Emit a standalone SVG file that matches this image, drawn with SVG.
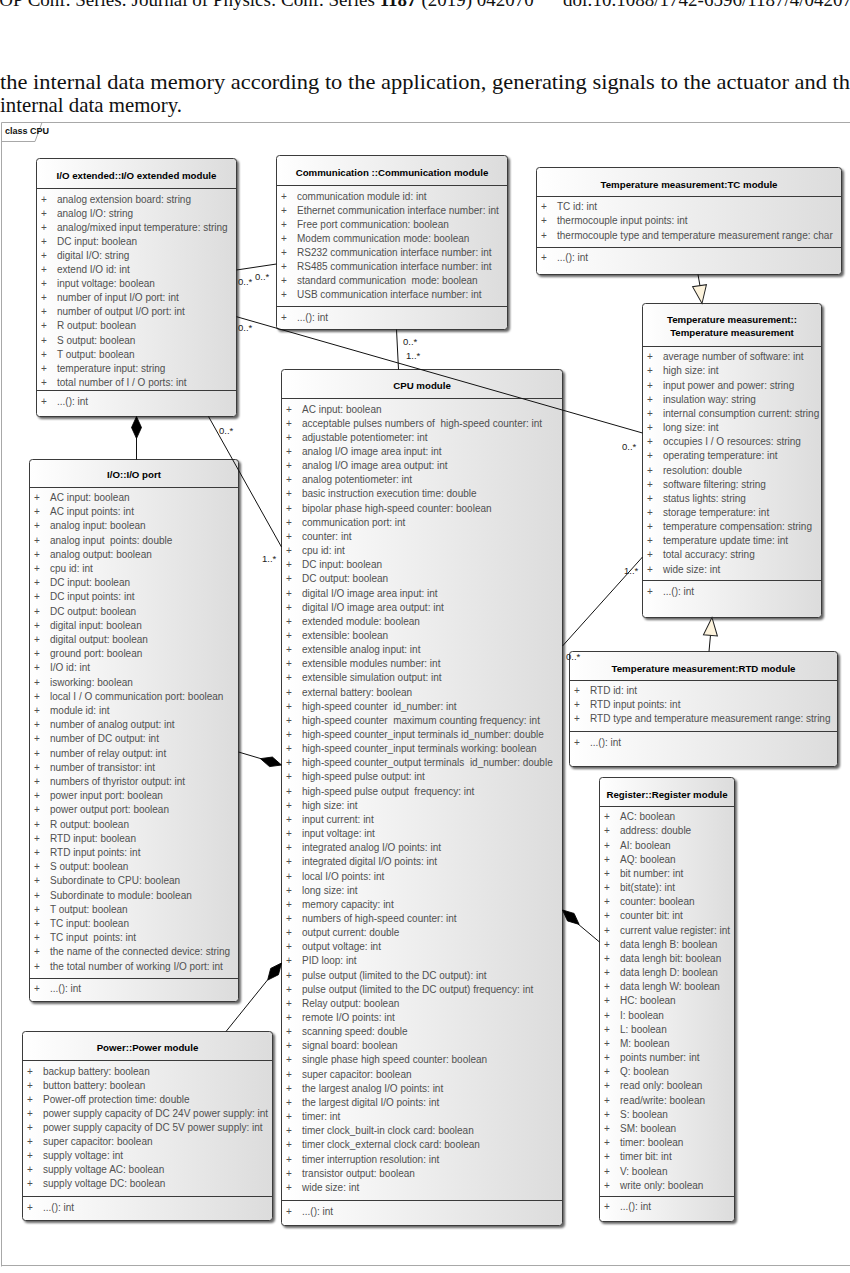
<svg xmlns="http://www.w3.org/2000/svg" width="850" height="1273" viewBox="0 0 850 1273">
<defs>
<linearGradient id="g" x1="0" y1="0" x2="1" y2="0"><stop offset="0" stop-color="#ffffff"/><stop offset="1" stop-color="#dcdcdc"/></linearGradient>
<filter id="sh" x="-5%" y="-5%" width="115%" height="115%"><feDropShadow dx="2" dy="2" stdDeviation="0.8" flood-color="#000" flood-opacity="0.6"/></filter>
<path id="dia" d="M0,0 L-11,-5 L-22,0 L-11,5 Z" fill="#000" stroke="#000" stroke-width="0.8"/>
<path id="tri" d="M0,0 L-18,-7 L-18,7 Z" fill="#fdf3dc" stroke="#222" stroke-width="1"/>
</defs>
<style>
.hd{font-family:"Liberation Serif","Times New Roman",serif;fill:#111}
.t{font-family:"Liberation Sans",Arial,sans-serif;font-size:9.7px;font-weight:bold;fill:#000;text-anchor:middle}
.a{font-family:"Liberation Sans",Arial,sans-serif;font-size:10px;fill:#505050;white-space:pre}
.m{font-family:"Liberation Sans",Arial,sans-serif;font-size:9.5px;fill:#222}
.box{fill:url(#g);stroke:#3a3a3a;stroke-width:1;filter:url(#sh)}
.sep{stroke:#3a3a3a;stroke-width:1}
.c{stroke:#111;stroke-width:1;fill:none}
.fr{stroke:#a8a8a8;stroke-width:1;fill:none}
</style>
<rect width="850" height="1273" fill="#fff"/>
<g id="header">
<text class="hd" x="-7" y="6" font-size="19">IOP Conf. Series: Journal of Physics: Conf. Series <tspan font-weight="bold">1187</tspan> (2019) 042070</text>
<text class="hd" x="563" y="6" font-size="19">doi:10.1088/1742-6596/1187/4/042070</text>
<text class="hd" x="0" y="89" font-size="22" textLength="850" lengthAdjust="spacingAndGlyphs">the internal data memory according to the application, generating signals to the actuator and th</text>
<text class="hd" x="0" y="112" font-size="22" textLength="182" lengthAdjust="spacingAndGlyphs">internal data memory.</text>
</g>
<g id="frame">
<path class="fr" d="M1.5,1266.5 V122.5 H850 M1.5,1265.5 H850 M1.5,141.5 H35 L42,122.5"/>
<text x="5" y="134" font-family="Liberation Sans, Arial, sans-serif" font-size="9" font-weight="bold" fill="#111">class CPU</text>
</g>

<g id="io-extended">
<rect class="box" x="36.5" y="158.5" width="200" height="258" rx="3"/>
<line class="sep" x1="36.5" y1="188.5" x2="236.5" y2="188.5"/>
<line class="sep" x1="36.5" y1="390.5" x2="236.5" y2="390.5"/>
<text class="t" x="136.5" y="179">I/O extended::I/O extended module</text>
<text class="a" y="202.5"><tspan x="41">+</tspan><tspan x="57">analog extension board: string</tspan></text>
<text class="a" y="216.6"><tspan x="41">+</tspan><tspan x="57">analog I/O: string</tspan></text>
<text class="a" y="230.7"><tspan x="41">+</tspan><tspan x="57">analog/mixed input temperature: string</tspan></text>
<text class="a" y="244.8"><tspan x="41">+</tspan><tspan x="57">DC input: boolean</tspan></text>
<text class="a" y="258.9"><tspan x="41">+</tspan><tspan x="57">digital I/O: string</tspan></text>
<text class="a" y="273"><tspan x="41">+</tspan><tspan x="57">extend I/O id: int</tspan></text>
<text class="a" y="287.1"><tspan x="41">+</tspan><tspan x="57">input voltage: boolean</tspan></text>
<text class="a" y="301.2"><tspan x="41">+</tspan><tspan x="57">number of input I/O port: int</tspan></text>
<text class="a" y="315.3"><tspan x="41">+</tspan><tspan x="57">number of output I/O port: int</tspan></text>
<text class="a" y="329.4"><tspan x="41">+</tspan><tspan x="57">R output: boolean</tspan></text>
<text class="a" y="343.5"><tspan x="41">+</tspan><tspan x="57">S output: boolean</tspan></text>
<text class="a" y="357.6"><tspan x="41">+</tspan><tspan x="57">T output: boolean</tspan></text>
<text class="a" y="371.7"><tspan x="41">+</tspan><tspan x="57">temperature input: string</tspan></text>
<text class="a" y="385.8"><tspan x="41">+</tspan><tspan x="57">total number of I / O ports: int</tspan></text>
<text class="a" y="404.5"><tspan x="41">+</tspan><tspan x="57">...(): int</tspan></text>
</g>

<g id="communication">
<rect class="box" x="276.5" y="155.5" width="231" height="174" rx="3"/>
<line class="sep" x1="276.5" y1="185.5" x2="507.5" y2="185.5"/>
<line class="sep" x1="276.5" y1="306.5" x2="507.5" y2="306.5"/>
<text class="t" x="392" y="175.5">Communication ::Communication module</text>
<text class="a" y="199.5"><tspan x="281">+</tspan><tspan x="297">communication module id: int</tspan></text>
<text class="a" y="213.6"><tspan x="281">+</tspan><tspan x="297">Ethernet communication interface number: int</tspan></text>
<text class="a" y="227.7"><tspan x="281">+</tspan><tspan x="297">Free port communication: boolean</tspan></text>
<text class="a" y="241.8"><tspan x="281">+</tspan><tspan x="297">Modem communication mode: boolean</tspan></text>
<text class="a" y="255.9"><tspan x="281">+</tspan><tspan x="297">RS232 communication interface number: int</tspan></text>
<text class="a" y="270"><tspan x="281">+</tspan><tspan x="297">RS485 communication interface number: int</tspan></text>
<text class="a" y="284.1"><tspan x="281">+</tspan><tspan x="297">standard communication  mode: boolean</tspan></text>
<text class="a" y="298.2"><tspan x="281">+</tspan><tspan x="297">USB communication interface number: int</tspan></text>
<text class="a" y="320.8"><tspan x="281">+</tspan><tspan x="297">...(): int</tspan></text>
</g>

<g id="tc-module">
<rect class="box" x="536.5" y="167.5" width="305" height="107" rx="3"/>
<line class="sep" x1="536.5" y1="196.5" x2="841.5" y2="196.5"/>
<line class="sep" x1="536.5" y1="247.5" x2="841.5" y2="247.5"/>
<text class="t" x="689" y="187.5">Temperature measurement:TC module</text>
<text class="a" y="209.5"><tspan x="541">+</tspan><tspan x="557">TC id: int</tspan></text>
<text class="a" y="224"><tspan x="541">+</tspan><tspan x="557">thermocouple input points: int</tspan></text>
<text class="a" y="238.5"><tspan x="541">+</tspan><tspan x="557">thermocouple type and temperature measurement range: char</tspan></text>
<text class="a" y="261"><tspan x="541">+</tspan><tspan x="557">...(): int</tspan></text>
</g>

<g id="temperature-measurement">
<rect class="box" x="642.5" y="303.5" width="179" height="314" rx="3"/>
<line class="sep" x1="642.5" y1="346.5" x2="821.5" y2="346.5"/>
<line class="sep" x1="642.5" y1="580.5" x2="821.5" y2="580.5"/>
<text class="t" x="732" y="322.5">Temperature measurement::</text>
<text class="t" x="732" y="336.3">Temperature measurement</text>
<text class="a" y="360.2"><tspan x="647">+</tspan><tspan x="663">average number of software: int</tspan></text>
<text class="a" y="374.4"><tspan x="647">+</tspan><tspan x="663">high size: int</tspan></text>
<text class="a" y="388.5"><tspan x="647">+</tspan><tspan x="663">input power and power: string</tspan></text>
<text class="a" y="402.7"><tspan x="647">+</tspan><tspan x="663">insulation way: string</tspan></text>
<text class="a" y="416.8"><tspan x="647">+</tspan><tspan x="663">internal consumption current: string</tspan></text>
<text class="a" y="431"><tspan x="647">+</tspan><tspan x="663">long size: int</tspan></text>
<text class="a" y="445.2"><tspan x="647">+</tspan><tspan x="663">occupies I / O resources: string</tspan></text>
<text class="a" y="459.3"><tspan x="647">+</tspan><tspan x="663">operating temperature: int</tspan></text>
<text class="a" y="473.5"><tspan x="647">+</tspan><tspan x="663">resolution: double</tspan></text>
<text class="a" y="487.6"><tspan x="647">+</tspan><tspan x="663">software filtering: string</tspan></text>
<text class="a" y="501.8"><tspan x="647">+</tspan><tspan x="663">status lights: string</tspan></text>
<text class="a" y="516"><tspan x="647">+</tspan><tspan x="663">storage temperature: int</tspan></text>
<text class="a" y="530.1"><tspan x="647">+</tspan><tspan x="663">temperature compensation: string</tspan></text>
<text class="a" y="544.3"><tspan x="647">+</tspan><tspan x="663">temperature update time: int</tspan></text>
<text class="a" y="558.4"><tspan x="647">+</tspan><tspan x="663">total accuracy: string</tspan></text>
<text class="a" y="572.6"><tspan x="647">+</tspan><tspan x="663">wide size: int</tspan></text>
<text class="a" y="595.2"><tspan x="647">+</tspan><tspan x="663">...(): int</tspan></text>
</g>

<g id="rtd-module">
<rect class="box" x="569.5" y="651.5" width="268" height="115" rx="3"/>
<line class="sep" x1="569.5" y1="680.5" x2="837.5" y2="680.5"/>
<line class="sep" x1="569.5" y1="731.5" x2="837.5" y2="731.5"/>
<text class="t" x="703.5" y="671.5">Temperature measurement:RTD module</text>
<text class="a" y="694"><tspan x="574">+</tspan><tspan x="590">RTD id: int</tspan></text>
<text class="a" y="708.2"><tspan x="574">+</tspan><tspan x="590">RTD input points: int</tspan></text>
<text class="a" y="722.4"><tspan x="574">+</tspan><tspan x="590">RTD type and temperature measurement range: string</tspan></text>
<text class="a" y="746"><tspan x="574">+</tspan><tspan x="590">...(): int</tspan></text>
</g>

<g id="cpu-module">
<rect class="box" x="281.5" y="369.5" width="281" height="856" rx="3"/>
<line class="sep" x1="281.5" y1="398.5" x2="562.5" y2="398.5"/>
<line class="sep" x1="281.5" y1="1200.5" x2="562.5" y2="1200.5"/>
<text class="t" x="422" y="388.5">CPU module</text>
<text class="a" y="412.5"><tspan x="286">+</tspan><tspan x="302">AC input: boolean</tspan></text>
<text class="a" y="426.7"><tspan x="286">+</tspan><tspan x="302">acceptable pulses numbers of  high-speed counter: int</tspan></text>
<text class="a" y="440.8"><tspan x="286">+</tspan><tspan x="302">adjustable potentiometer: int</tspan></text>
<text class="a" y="455"><tspan x="286">+</tspan><tspan x="302">analog I/O image area input: int</tspan></text>
<text class="a" y="469.1"><tspan x="286">+</tspan><tspan x="302">analog I/O image area output: int</tspan></text>
<text class="a" y="483.3"><tspan x="286">+</tspan><tspan x="302">analog potentiometer: int</tspan></text>
<text class="a" y="497.4"><tspan x="286">+</tspan><tspan x="302">basic instruction execution time: double</tspan></text>
<text class="a" y="511.6"><tspan x="286">+</tspan><tspan x="302">bipolar phase high-speed counter: boolean</tspan></text>
<text class="a" y="525.7"><tspan x="286">+</tspan><tspan x="302">communication port: int</tspan></text>
<text class="a" y="539.9"><tspan x="286">+</tspan><tspan x="302">counter: int</tspan></text>
<text class="a" y="554"><tspan x="286">+</tspan><tspan x="302">cpu id: int</tspan></text>
<text class="a" y="568.2"><tspan x="286">+</tspan><tspan x="302">DC input: boolean</tspan></text>
<text class="a" y="582.3"><tspan x="286">+</tspan><tspan x="302">DC output: boolean</tspan></text>
<text class="a" y="596.5"><tspan x="286">+</tspan><tspan x="302">digital I/O image area input: int</tspan></text>
<text class="a" y="610.6"><tspan x="286">+</tspan><tspan x="302">digital I/O image area output: int</tspan></text>
<text class="a" y="624.8"><tspan x="286">+</tspan><tspan x="302">extended module: boolean</tspan></text>
<text class="a" y="638.9"><tspan x="286">+</tspan><tspan x="302">extensible: boolean</tspan></text>
<text class="a" y="653.1"><tspan x="286">+</tspan><tspan x="302">extensible analog input: int</tspan></text>
<text class="a" y="667.2"><tspan x="286">+</tspan><tspan x="302">extensible modules number: int</tspan></text>
<text class="a" y="681.4"><tspan x="286">+</tspan><tspan x="302">extensible simulation output: int</tspan></text>
<text class="a" y="695.5"><tspan x="286">+</tspan><tspan x="302">external battery: boolean</tspan></text>
<text class="a" y="709.7"><tspan x="286">+</tspan><tspan x="302">high-speed counter  id_number: int</tspan></text>
<text class="a" y="723.8"><tspan x="286">+</tspan><tspan x="302">high-speed counter  maximum counting frequency: int</tspan></text>
<text class="a" y="738"><tspan x="286">+</tspan><tspan x="302">high-speed counter_input terminals id_number: double</tspan></text>
<text class="a" y="752.1"><tspan x="286">+</tspan><tspan x="302">high-speed counter_input terminals working: boolean</tspan></text>
<text class="a" y="766.3"><tspan x="286">+</tspan><tspan x="302">high-speed counter_output terminals  id_number: double</tspan></text>
<text class="a" y="780.4"><tspan x="286">+</tspan><tspan x="302">high-speed pulse output: int</tspan></text>
<text class="a" y="794.6"><tspan x="286">+</tspan><tspan x="302">high-speed pulse output  frequency: int</tspan></text>
<text class="a" y="808.7"><tspan x="286">+</tspan><tspan x="302">high size: int</tspan></text>
<text class="a" y="822.9"><tspan x="286">+</tspan><tspan x="302">input current: int</tspan></text>
<text class="a" y="837"><tspan x="286">+</tspan><tspan x="302">input voltage: int</tspan></text>
<text class="a" y="851.2"><tspan x="286">+</tspan><tspan x="302">integrated analog I/O points: int</tspan></text>
<text class="a" y="865.3"><tspan x="286">+</tspan><tspan x="302">integrated digital I/O points: int</tspan></text>
<text class="a" y="879.5"><tspan x="286">+</tspan><tspan x="302">local I/O points: int</tspan></text>
<text class="a" y="893.6"><tspan x="286">+</tspan><tspan x="302">long size: int</tspan></text>
<text class="a" y="907.8"><tspan x="286">+</tspan><tspan x="302">memory capacity: int</tspan></text>
<text class="a" y="921.9"><tspan x="286">+</tspan><tspan x="302">numbers of high-speed counter: int</tspan></text>
<text class="a" y="936.1"><tspan x="286">+</tspan><tspan x="302">output current: double</tspan></text>
<text class="a" y="950.2"><tspan x="286">+</tspan><tspan x="302">output voltage: int</tspan></text>
<text class="a" y="964.4"><tspan x="286">+</tspan><tspan x="302">PID loop: int</tspan></text>
<text class="a" y="978.5"><tspan x="286">+</tspan><tspan x="302">pulse output (limited to the DC output): int</tspan></text>
<text class="a" y="992.7"><tspan x="286">+</tspan><tspan x="302">pulse output (limited to the DC output) frequency: int</tspan></text>
<text class="a" y="1006.8"><tspan x="286">+</tspan><tspan x="302">Relay output: boolean</tspan></text>
<text class="a" y="1021"><tspan x="286">+</tspan><tspan x="302">remote I/O points: int</tspan></text>
<text class="a" y="1035.1"><tspan x="286">+</tspan><tspan x="302">scanning speed: double</tspan></text>
<text class="a" y="1049.3"><tspan x="286">+</tspan><tspan x="302">signal board: boolean</tspan></text>
<text class="a" y="1063.4"><tspan x="286">+</tspan><tspan x="302">single phase high speed counter: boolean</tspan></text>
<text class="a" y="1077.6"><tspan x="286">+</tspan><tspan x="302">super capacitor: boolean</tspan></text>
<text class="a" y="1091.7"><tspan x="286">+</tspan><tspan x="302">the largest analog I/O points: int</tspan></text>
<text class="a" y="1105.9"><tspan x="286">+</tspan><tspan x="302">the largest digital I/O points: int</tspan></text>
<text class="a" y="1120"><tspan x="286">+</tspan><tspan x="302">timer: int</tspan></text>
<text class="a" y="1134.2"><tspan x="286">+</tspan><tspan x="302">timer clock_built-in clock card: boolean</tspan></text>
<text class="a" y="1148.3"><tspan x="286">+</tspan><tspan x="302">timer clock_external clock card: boolean</tspan></text>
<text class="a" y="1162.5"><tspan x="286">+</tspan><tspan x="302">timer interruption resolution: int</tspan></text>
<text class="a" y="1176.6"><tspan x="286">+</tspan><tspan x="302">transistor output: boolean</tspan></text>
<text class="a" y="1190.8"><tspan x="286">+</tspan><tspan x="302">wide size: int</tspan></text>
<text class="a" y="1214.5"><tspan x="286">+</tspan><tspan x="302">...(): int</tspan></text>
</g>

<g id="io-port">
<rect class="box" x="29.5" y="459.5" width="209" height="542" rx="3"/>
<line class="sep" x1="29.5" y1="487.5" x2="238.5" y2="487.5"/>
<line class="sep" x1="29.5" y1="978.5" x2="238.5" y2="978.5"/>
<text class="t" x="134" y="478">I/O::I/O port</text>
<text class="a" y="501"><tspan x="34">+</tspan><tspan x="50">AC input: boolean</tspan></text>
<text class="a" y="515.2"><tspan x="34">+</tspan><tspan x="50">AC input points: int</tspan></text>
<text class="a" y="529.4"><tspan x="34">+</tspan><tspan x="50">analog input: boolean</tspan></text>
<text class="a" y="543.6"><tspan x="34">+</tspan><tspan x="50">analog input  points: double</tspan></text>
<text class="a" y="557.8"><tspan x="34">+</tspan><tspan x="50">analog output: boolean</tspan></text>
<text class="a" y="572"><tspan x="34">+</tspan><tspan x="50">cpu id: int</tspan></text>
<text class="a" y="586.2"><tspan x="34">+</tspan><tspan x="50">DC input: boolean</tspan></text>
<text class="a" y="600.4"><tspan x="34">+</tspan><tspan x="50">DC input points: int</tspan></text>
<text class="a" y="614.6"><tspan x="34">+</tspan><tspan x="50">DC output: boolean</tspan></text>
<text class="a" y="628.8"><tspan x="34">+</tspan><tspan x="50">digital input: boolean</tspan></text>
<text class="a" y="643"><tspan x="34">+</tspan><tspan x="50">digital output: boolean</tspan></text>
<text class="a" y="657.2"><tspan x="34">+</tspan><tspan x="50">ground port: boolean</tspan></text>
<text class="a" y="671.4"><tspan x="34">+</tspan><tspan x="50">I/O id: int</tspan></text>
<text class="a" y="685.6"><tspan x="34">+</tspan><tspan x="50">isworking: boolean</tspan></text>
<text class="a" y="699.8"><tspan x="34">+</tspan><tspan x="50">local I / O communication port: boolean</tspan></text>
<text class="a" y="714"><tspan x="34">+</tspan><tspan x="50">module id: int</tspan></text>
<text class="a" y="728.2"><tspan x="34">+</tspan><tspan x="50">number of analog output: int</tspan></text>
<text class="a" y="742.4"><tspan x="34">+</tspan><tspan x="50">number of DC output: int</tspan></text>
<text class="a" y="756.6"><tspan x="34">+</tspan><tspan x="50">number of relay output: int</tspan></text>
<text class="a" y="770.8"><tspan x="34">+</tspan><tspan x="50">number of transistor: int</tspan></text>
<text class="a" y="785"><tspan x="34">+</tspan><tspan x="50">numbers of thyristor output: int</tspan></text>
<text class="a" y="799.2"><tspan x="34">+</tspan><tspan x="50">power input port: boolean</tspan></text>
<text class="a" y="813.4"><tspan x="34">+</tspan><tspan x="50">power output port: boolean</tspan></text>
<text class="a" y="827.6"><tspan x="34">+</tspan><tspan x="50">R output: boolean</tspan></text>
<text class="a" y="841.8"><tspan x="34">+</tspan><tspan x="50">RTD input: boolean</tspan></text>
<text class="a" y="856"><tspan x="34">+</tspan><tspan x="50">RTD input points: int</tspan></text>
<text class="a" y="870.2"><tspan x="34">+</tspan><tspan x="50">S output: boolean</tspan></text>
<text class="a" y="884.4"><tspan x="34">+</tspan><tspan x="50">Subordinate to CPU: boolean</tspan></text>
<text class="a" y="898.6"><tspan x="34">+</tspan><tspan x="50">Subordinate to module: boolean</tspan></text>
<text class="a" y="912.8"><tspan x="34">+</tspan><tspan x="50">T output: boolean</tspan></text>
<text class="a" y="927"><tspan x="34">+</tspan><tspan x="50">TC input: boolean</tspan></text>
<text class="a" y="941.2"><tspan x="34">+</tspan><tspan x="50">TC input  points: int</tspan></text>
<text class="a" y="955.4"><tspan x="34">+</tspan><tspan x="50">the name of the connected device: string</tspan></text>
<text class="a" y="969.6"><tspan x="34">+</tspan><tspan x="50">the total number of working I/O port: int</tspan></text>
<text class="a" y="991.5"><tspan x="34">+</tspan><tspan x="50">...(): int</tspan></text>
</g>

<g id="power-module">
<rect class="box" x="22.5" y="1031.5" width="250" height="189" rx="3"/>
<line class="sep" x1="22.5" y1="1060.5" x2="272.5" y2="1060.5"/>
<line class="sep" x1="22.5" y1="1196.5" x2="272.5" y2="1196.5"/>
<text class="t" x="147.5" y="1051.3">Power::Power module</text>
<text class="a" y="1074.5"><tspan x="27">+</tspan><tspan x="43">backup battery: boolean</tspan></text>
<text class="a" y="1088.6"><tspan x="27">+</tspan><tspan x="43">button battery: boolean</tspan></text>
<text class="a" y="1102.7"><tspan x="27">+</tspan><tspan x="43">Power-off protection time: double</tspan></text>
<text class="a" y="1116.8"><tspan x="27">+</tspan><tspan x="43">power supply capacity of DC 24V power supply: int</tspan></text>
<text class="a" y="1130.9"><tspan x="27">+</tspan><tspan x="43">power supply capacity of DC 5V power supply: int</tspan></text>
<text class="a" y="1145"><tspan x="27">+</tspan><tspan x="43">super capacitor: boolean</tspan></text>
<text class="a" y="1159.1"><tspan x="27">+</tspan><tspan x="43">supply voltage: int</tspan></text>
<text class="a" y="1173.2"><tspan x="27">+</tspan><tspan x="43">supply voltage AC: boolean</tspan></text>
<text class="a" y="1187.3"><tspan x="27">+</tspan><tspan x="43">supply voltage DC: boolean</tspan></text>
<text class="a" y="1210.5"><tspan x="27">+</tspan><tspan x="43">...(): int</tspan></text>
</g>

<g id="register-module">
<rect class="box" x="599.5" y="777.5" width="135" height="444" rx="3"/>
<line class="sep" x1="599.5" y1="806.5" x2="734.5" y2="806.5"/>
<line class="sep" x1="599.5" y1="1196.5" x2="734.5" y2="1196.5"/>
<text class="t" x="667" y="797.5">Register::Register module</text>
<text class="a" y="820.2"><tspan x="604">+</tspan><tspan x="620">AC: boolean</tspan></text>
<text class="a" y="834.4"><tspan x="604">+</tspan><tspan x="620">address: double</tspan></text>
<text class="a" y="848.5"><tspan x="604">+</tspan><tspan x="620">AI: boolean</tspan></text>
<text class="a" y="862.7"><tspan x="604">+</tspan><tspan x="620">AQ: boolean</tspan></text>
<text class="a" y="876.9"><tspan x="604">+</tspan><tspan x="620">bit number: int</tspan></text>
<text class="a" y="891.1"><tspan x="604">+</tspan><tspan x="620">bit(state): int</tspan></text>
<text class="a" y="905.2"><tspan x="604">+</tspan><tspan x="620">counter: boolean</tspan></text>
<text class="a" y="919.4"><tspan x="604">+</tspan><tspan x="620">counter bit: int</tspan></text>
<text class="a" y="933.6"><tspan x="604">+</tspan><tspan x="620">current value register: int</tspan></text>
<text class="a" y="947.7"><tspan x="604">+</tspan><tspan x="620">data lengh B: boolean</tspan></text>
<text class="a" y="961.9"><tspan x="604">+</tspan><tspan x="620">data lengh bit: boolean</tspan></text>
<text class="a" y="976.1"><tspan x="604">+</tspan><tspan x="620">data lengh D: boolean</tspan></text>
<text class="a" y="990.2"><tspan x="604">+</tspan><tspan x="620">data lengh W: boolean</tspan></text>
<text class="a" y="1004.4"><tspan x="604">+</tspan><tspan x="620">HC: boolean</tspan></text>
<text class="a" y="1018.6"><tspan x="604">+</tspan><tspan x="620">I: boolean</tspan></text>
<text class="a" y="1032.8"><tspan x="604">+</tspan><tspan x="620">L: boolean</tspan></text>
<text class="a" y="1046.9"><tspan x="604">+</tspan><tspan x="620">M: boolean</tspan></text>
<text class="a" y="1061.1"><tspan x="604">+</tspan><tspan x="620">points number: int</tspan></text>
<text class="a" y="1075.3"><tspan x="604">+</tspan><tspan x="620">Q: boolean</tspan></text>
<text class="a" y="1089.4"><tspan x="604">+</tspan><tspan x="620">read only: boolean</tspan></text>
<text class="a" y="1103.6"><tspan x="604">+</tspan><tspan x="620">read/write: boolean</tspan></text>
<text class="a" y="1117.8"><tspan x="604">+</tspan><tspan x="620">S: boolean</tspan></text>
<text class="a" y="1131.9"><tspan x="604">+</tspan><tspan x="620">SM: boolean</tspan></text>
<text class="a" y="1146.1"><tspan x="604">+</tspan><tspan x="620">timer: boolean</tspan></text>
<text class="a" y="1160.3"><tspan x="604">+</tspan><tspan x="620">timer bit: int</tspan></text>
<text class="a" y="1174.5"><tspan x="604">+</tspan><tspan x="620">V: boolean</tspan></text>
<text class="a" y="1188.6"><tspan x="604">+</tspan><tspan x="620">write only: boolean</tspan></text>
<text class="a" y="1210.2"><tspan x="604">+</tspan><tspan x="620">...(): int</tspan></text>
</g>

<g id="connectors">
<line class="c" x1="236.5" y1="270" x2="276.5" y2="264"/>
<line class="c" x1="236.5" y1="316.7" x2="642.5" y2="433"/>
<line class="c" x1="396.5" y1="329.5" x2="398.5" y2="369.5"/>
<line class="c" x1="208.5" y1="416.5" x2="281.5" y2="547"/>
<line class="c" x1="562.5" y1="646" x2="642.5" y2="557"/>
<line class="c" x1="136.5" y1="438" x2="136.5" y2="459.5"/>
<use href="#dia" transform="translate(136.5,416.5) rotate(-90)"/>
<line class="c" x1="238.5" y1="752" x2="261" y2="758.7"/>
<use href="#dia" transform="translate(281.5,765) rotate(16.8)"/>
<line class="c" x1="226" y1="1031.5" x2="267.5" y2="980"/>
<use href="#dia" transform="translate(281.5,963) rotate(-51)"/>
<line class="c" x1="599.5" y1="942" x2="578" y2="924"/>
<use href="#dia" transform="translate(562.5,910) rotate(-139.1)"/>
<line class="c" x1="698" y1="274.5" x2="700" y2="286"/>
<use href="#tri" transform="translate(702,303.5) rotate(82.1)"/>
<line class="c" x1="709" y1="651.5" x2="710.5" y2="635"/>
<use href="#tri" transform="translate(712,617.5) rotate(-85)"/>
<text class="m" x="238" y="285">0..*</text>
<text class="m" x="255" y="280">0..*</text>
<text class="m" x="238" y="331">0..*</text>
<text class="m" x="403" y="345">0..*</text>
<text class="m" x="406" y="359">1..*</text>
<text class="m" x="219" y="434">0..*</text>
<text class="m" x="262" y="562">1..*</text>
<text class="m" x="622" y="450">0..*</text>
<text class="m" x="624" y="574">1..*</text>
<text class="m" x="566" y="660">0..*</text>
</g>
</svg>
